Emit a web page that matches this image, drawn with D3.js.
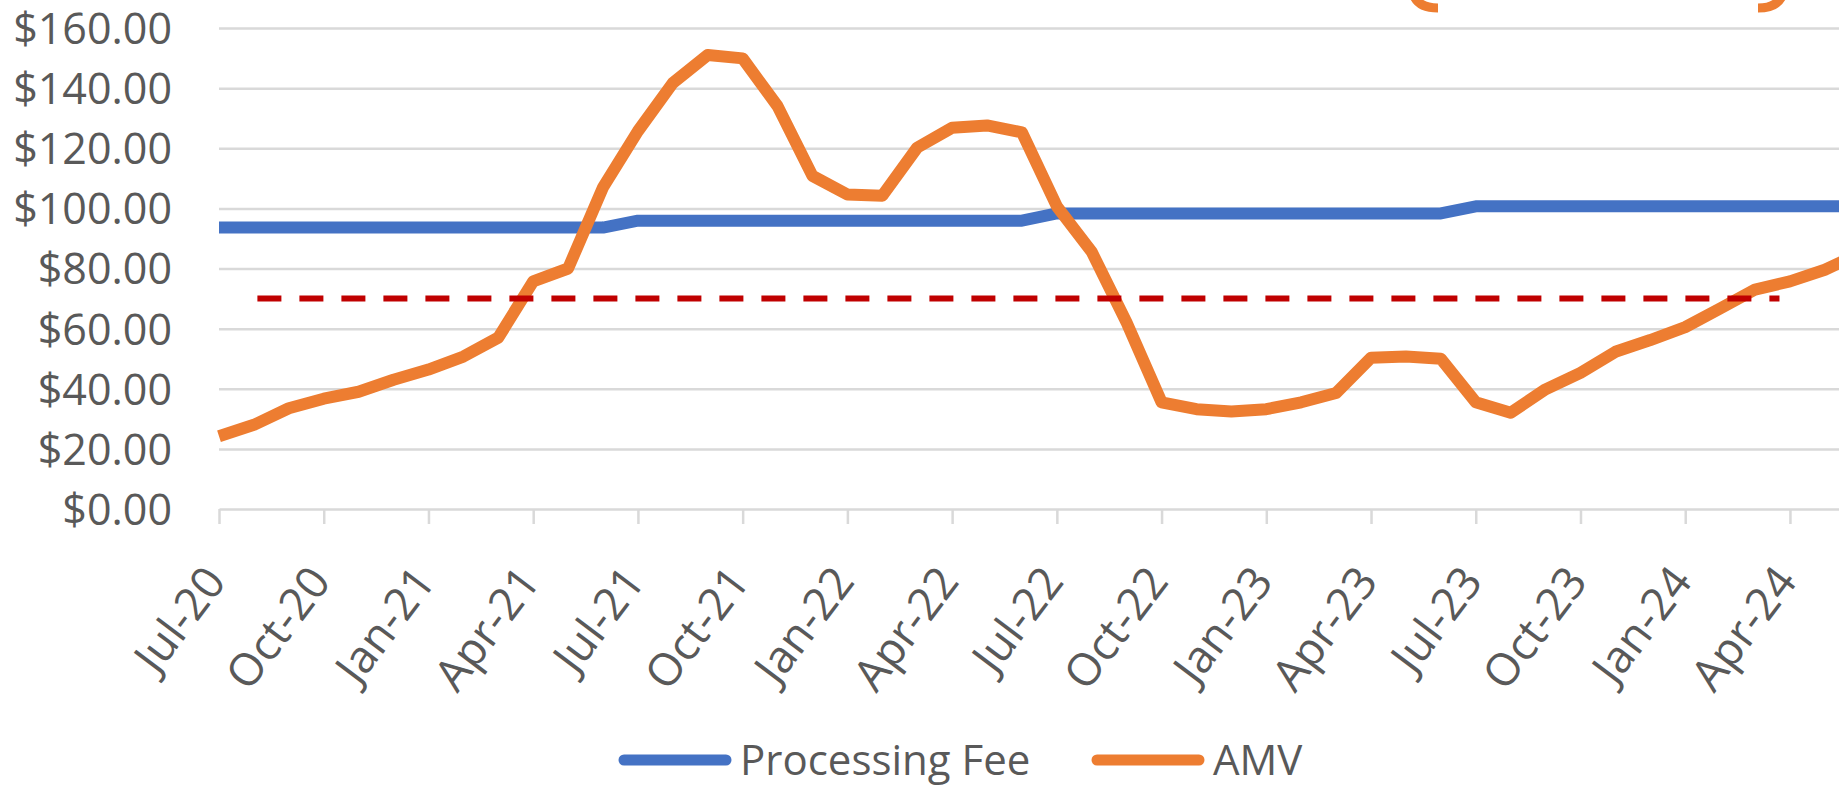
<!DOCTYPE html>
<html>
<head>
<meta charset="utf-8">
<style>
body { margin: 0; background: #fff; }
svg { display: block; }
svg text { font-family: "Open Sans", sans-serif; fill: #595959; }
</style>
</head>
<body>
<svg width="1839" height="786"></svg>
<script src="https://d3js.org/d3.v7.min.js"></script>
<script>
// monthly categories, Jul-20 .. Jun-24
var months = ["Jul-20","Aug-20","Sep-20","Oct-20","Nov-20","Dec-20",
  "Jan-21","Feb-21","Mar-21","Apr-21","May-21","Jun-21",
  "Jul-21","Aug-21","Sep-21","Oct-21","Nov-21","Dec-21",
  "Jan-22","Feb-22","Mar-22","Apr-22","May-22","Jun-22",
  "Jul-22","Aug-22","Sep-22","Oct-22","Nov-22","Dec-22",
  "Jan-23","Feb-23","Mar-23","Apr-23","May-23","Jun-23",
  "Jul-23","Aug-23","Sep-23","Oct-23","Nov-23","Dec-23",
  "Jan-24","Feb-24","Mar-24","Apr-24","May-24","Jun-24"];

var processingFee = [93.6,93.6,93.6,93.6,93.6,93.6,93.6,93.6,93.6,93.6,93.6,93.6,
  95.9,95.9,95.9,95.9,95.9,95.9,95.9,95.9,95.9,95.9,95.9,95.9,
  98.3,98.3,98.3,98.3,98.3,98.3,98.3,98.3,98.3,98.3,98.3,98.3,
  100.7,100.7,100.7,100.7,100.7,100.7,100.7,100.7,100.7,100.7,100.7,100.7];

var amv = [24.2,28,33.5,36.7,39,43,46.4,50.7,57,75.7,80,107,
  125.7,141.7,151,149.9,134,110.8,104.6,104.2,120.2,126.8,127.6,125.3,
  100.7,85.5,62,35.5,33.2,32.4,33.2,35.5,38.6,50.3,50.7,50,
  35.5,32,39.8,45.3,52.3,56.2,60.5,66.7,73,75.7,79.6,85];

var tickMonths = ["Jul-20","Oct-20","Jan-21","Apr-21","Jul-21","Oct-21","Jan-22","Apr-22",
  "Jul-22","Oct-22","Jan-23","Apr-23","Jul-23","Oct-23","Jan-24","Apr-24"];
var yTicks = [0,20,40,60,80,100,120,140,160];

// red dashed reference level, given as month offsets from Jul-20
var thresholdValue = 70;
var thresholdFrom = 1.1, thresholdTo = 44.7;

var seriesNames = ["Processing Fee", "AMV"];
var colors = ["#4472c4", "#ed7d31"];

var svg = d3.select("svg"),
    width = +svg.attr("width");

var left = 219, step = 34.91;
var x = d3.scalePoint().domain(months).range([left, left + step * (months.length - 1)]);
var y = d3.scaleLinear().domain([0, 160]).range([509, 28]);

// grid
svg.append("g")
    .attr("transform", "translate(" + left + ",0)")
    .call(d3.axisLeft(y).tickValues(yTicks.slice(1)).tickSize(-(width - left)).tickFormat(""))
    .call(function(g) { g.select(".domain").remove(); })
    .selectAll("line").attr("stroke", "#d9d9d9").attr("stroke-width", 2.5);

// y labels
svg.append("g")
    .attr("transform", "translate(172,0)")
    .call(d3.axisLeft(y).tickValues(yTicks).tickSize(0).tickPadding(0)
      .tickFormat(function(d) { return "$" + d3.format(".2f")(d); }))
    .call(function(g) { g.select(".domain").remove(); })
    .selectAll("text")
    .attr("dy", "0.36em")
    .style("font-size", "43px")
    .style("font-family", "'Open Sans', sans-serif")
    .attr("fill", "#595959");

// x axis
var xAxis = svg.append("g")
    .attr("transform", "translate(0," + y(0) + ")")
    .call(d3.axisBottom(x).tickValues(tickMonths).tickSize(15).tickSizeOuter(0));
xAxis.select(".domain").attr("stroke", "#d9d9d9").attr("stroke-width", 2.5);
xAxis.selectAll(".tick line").attr("stroke", "#d9d9d9").attr("stroke-width", 2.5);
xAxis.selectAll("text")
    .attr("x", 0).attr("y", 0).attr("dy", 0)
    .attr("transform", "translate(8,73) rotate(-53)")
    .style("text-anchor", "end")
    .style("font-size", "45px")
    .style("font-family", "'Open Sans', sans-serif")
    .attr("fill", "#595959");

var line = d3.line()
    .x(function(d, i) { return x(months[i]); })
    .y(function(d) { return y(d); });

[processingFee, amv].forEach(function(s, k) {
  svg.append("path")
      .datum(s)
      .attr("fill", "none")
      .attr("stroke", colors[k])
      .attr("stroke-width", 12)
      .attr("stroke-linejoin", "round")
      .attr("d", line);
});

// dashed reference line
var x0 = x(months[0]);
svg.append("line")
    .attr("x1", x0 + x.step() * thresholdFrom)
    .attr("x2", x0 + x.step() * thresholdTo)
    .attr("y1", y(thresholdValue))
    .attr("y2", y(thresholdValue))
    .attr("stroke", "#c00000")
    .attr("stroke-width", 6)
    .attr("stroke-dasharray", "24,18");

// bottoms of the orange brackets cut off at the top edge
svg.append("path")
    .attr("d", "M1412,-12 Q1414,8 1438,8")
    .attr("fill", "none").attr("stroke", "#ed7d31").attr("stroke-width", 9);
svg.append("path")
    .attr("d", "M1758,8 Q1782,8 1784,-12")
    .attr("fill", "none").attr("stroke", "#ed7d31").attr("stroke-width", 9);

// legend
var legendX = [624, 1097];
var legend = svg.selectAll(".legend")
    .data(seriesNames)
    .enter().append("g")
    .attr("class", "legend")
    .attr("transform", function(d, i) { return "translate(" + legendX[i] + ",760)"; });
legend.append("line")
    .attr("x1", 0).attr("x2", 102)
    .attr("stroke", function(d, i) { return colors[i]; })
    .attr("stroke-width", 11)
    .attr("stroke-linecap", "round");
legend.append("text")
    .attr("x", 116)
    .attr("y", 15)
    .style("font-size", "42px")
    .text(function(d) { return d; });
</script>
</body>
</html>
